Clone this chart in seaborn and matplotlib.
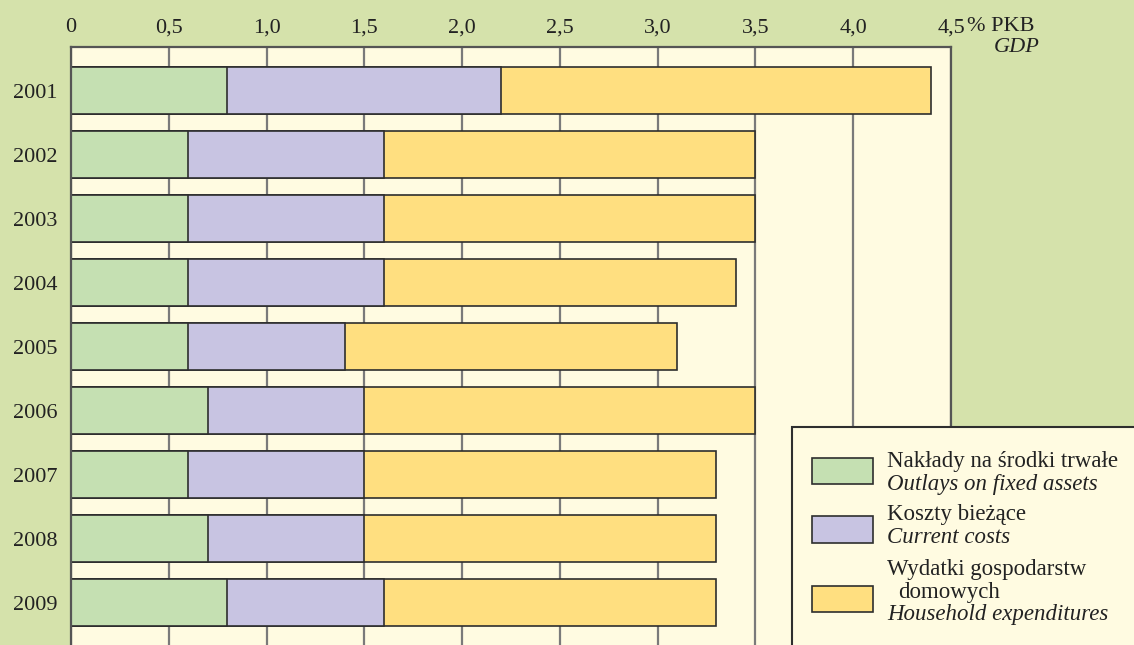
import matplotlib
matplotlib.use('Agg')
import matplotlib.pyplot as plt
import seaborn as sns
import pandas as pd
from matplotlib.patches import Rectangle

# ---- data ----
years = ['2001', '2002', '2003', '2004', '2005', '2006', '2007', '2008', '2009']
fixed_assets = [0.8, 0.6, 0.6, 0.6, 0.6, 0.7, 0.6, 0.7, 0.8]
current_costs = [1.4, 1.0, 1.0, 1.0, 0.8, 0.8, 0.9, 0.8, 0.8]
household = [2.2, 1.9, 1.9, 1.8, 1.7, 2.0, 1.8, 1.8, 1.7]
x_ticks = [0, 0.5, 1.0, 1.5, 2.0, 2.5, 3.0, 3.5, 4.0, 4.5]
x_tick_labels = ['0', '0,5', '1,0', '1,5', '2,0', '2,5', '3,0', '3,5', '4,0', '4,5']

BG = '#d5e2ab'
PLOT_BG = '#fffbe1'
C_GREEN = '#c5e0b2'
C_PURPLE = '#c8c4e2'
C_YELLOW = '#ffdf80'
EDGE = '#2e2e2e'

df = pd.DataFrame({'year': years, 'fixed': fixed_assets,
                   'current': current_costs, 'household': household})
df['cum1'] = df['fixed']
df['cum2'] = df['fixed'] + df['current']
df['cum3'] = df['cum2'] + df['household']

sns.set_theme(style='white')
plt.rcParams['font.family'] = ['Liberation Serif', 'DejaVu Serif']

W, H = 1134, 645
fig = plt.figure(figsize=(W / 100, H / 100), dpi=100, facecolor=BG)
ax = fig.add_axes([71 / W, 0, (951 - 71) / W, (H - 47) / H])
ax.set_facecolor(PLOT_BG)

for col, c in [('cum3', C_YELLOW), ('cum2', C_PURPLE), ('cum1', C_GREEN)]:
    sns.barplot(data=df, x=col, y='year', orient='h', color=c, saturation=1,
                edgecolor=EDGE, linewidth=1.2, width=0.73, ax=ax, order=years)

ax.set_xlim(0, 4.5)
ax.set_ylim(8.66, -0.68)
ax.set_xlabel('')
ax.set_ylabel('')
ax.set_xticks(x_ticks)
ax.set_xticklabels(x_tick_labels)
ax.xaxis.tick_top()
ax.tick_params(axis='x', length=0, pad=7, labelsize=16, colors='#222222')
ax.tick_params(axis='y', length=0, pad=10, labelsize=16, colors='#222222')
ax.set_axisbelow(True)
ax.xaxis.grid(True, color='#7a7a7a', linewidth=1.6)
ax.yaxis.grid(False)
for s in ['left', 'top', 'right']:
    ax.spines[s].set_visible(True)
    ax.spines[s].set_color('#555555')
    ax.spines[s].set_linewidth(1.6)
ax.spines['bottom'].set_visible(False)


def fx(px):
    return px / W


def fy(py):
    return 1 - py / H


fig.text(fx(967), fy(31), '% PKB', fontsize=16, va='baseline', ha='left', color='#222222')
fig.text(fx(1040), fy(52), 'GDP', fontsize=16, va='baseline', ha='right',
         style='italic', color='#222222')

# legend box
box = Rectangle((fx(792), -0.01), 0.5, fy(427) + 0.01, transform=fig.transFigure,
                facecolor=PLOT_BG, edgecolor=EDGE, linewidth=1.5, zorder=5)
fig.add_artist(box)

leg_items = [
    (C_GREEN, 458, 484, [(887, 467, 'Nakłady na środki trwałe', 'normal'),
                         (887, 490, 'Outlays on fixed assets', 'italic')]),
    (C_PURPLE, 516, 543, [(887, 520, 'Koszty bieżące', 'normal'),
                          (887, 543, 'Current costs', 'italic')]),
    (C_YELLOW, 586, 612, [(887, 575, 'Wydatki gospodarstw', 'normal'),
                          (898, 598, 'domowych', 'normal'),
                          (887, 620, 'Household expenditures', 'italic')]),
]
for color, y0, y1, lines in leg_items:
    r = Rectangle((fx(812), fy(y1)), (873 - 812) / W, (y1 - y0) / H,
                  transform=fig.transFigure, facecolor=color, edgecolor=EDGE,
                  linewidth=1.2, zorder=6)
    fig.add_artist(r)
    for x, y, t, st in lines:
        fig.text(fx(x), fy(y), t, fontsize=16.5, style=st, va='baseline', ha='left',
                 color='#222222', zorder=7)

fig.savefig('out.png', dpi=100, facecolor=BG)
